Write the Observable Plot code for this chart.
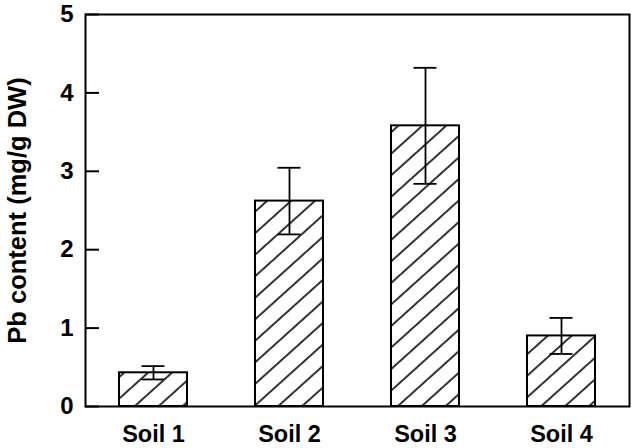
<!DOCTYPE html>
<html>
<head>
<meta charset="utf-8">
<script src="https://cdn.jsdelivr.net/npm/d3@7"></script>
<script src="https://cdn.jsdelivr.net/npm/@observablehq/plot@0.6"></script>
<style>
  html, body { margin: 0; padding: 0; background: #fff; }
</style>
</head>
<body>
<div id="chart"></div>
<script>
const soils = ["Soil 1", "Soil 2", "Soil 3", "Soil 4"];
const pbContent = [0.43, 2.62, 3.58, 0.90];
const pbError = [0.085, 0.425, 0.74, 0.23];
const yTicks = [0, 1, 2, 3, 4, 5];
const yLabel = ["Pb content (mg/g DW)"];

const data = soils.map((s, i) => ({
  soil: s,
  value: pbContent[i],
  lo: pbContent[i] - pbError[i],
  hi: pbContent[i] + pbError[i]
}));

const font = "'Liberation Sans', Arial, Helvetica, sans-serif";

const chart = Plot.plot({
  width: 636,
  height: 448,
  marginTop: 14,
  marginBottom: 42,
  marginLeft: 85,
  marginRight: 7,
  style: { fontFamily: font, fontWeight: "bold", background: "#fff", color: "#000" },
  x: { domain: soils, paddingInner: 0.5, paddingOuter: 0.25, label: null },
  y: { domain: [0, 5], label: null },
  marks: [
    Plot.barY(data, { x: "soil", y: "value", fill: "url(#hatch)", stroke: "#000", strokeWidth: 2 }),
    Plot.ruleX(data, { x: "soil", y1: "lo", y2: "hi", stroke: "#000", strokeWidth: 1.8 }),
    Plot.tickY(data, { x: "soil", y: "hi", inset: 22.5, stroke: "#000", strokeWidth: 1.8 }),
    Plot.tickY(data, { x: "soil", y: "lo", inset: 22.5, stroke: "#000", strokeWidth: 1.8 }),
    Plot.ruleY(yTicks, { y: d => d, insetRight: 530, stroke: "#000", strokeWidth: 2 }),
    Plot.axisY(yTicks, { tickSize: 0, tickPadding: 12, tickFormat: d => String(d), fontSize: 24, fontWeight: "bold", label: null }),
    Plot.axisX({ tickSize: 0, tickPadding: 19, fontSize: 23.5, fontWeight: "bold", label: null }),
    Plot.text(yLabel, { text: d => d, frameAnchor: "left", textAnchor: "middle", rotate: -90, dx: -60, lineAnchor: "bottom", fontSize: 25.5, fontWeight: "bold", fill: "#000" }),
    Plot.frame({ stroke: "#000", strokeWidth: 2 })
  ]
});

const svg = d3.select(chart);
const defs = svg.insert("defs", ":first-child");
const sp = 16;
const pat = defs.append("pattern")
  .attr("id", "hatch")
  .attr("patternUnits", "userSpaceOnUse")
  .attr("width", sp)
  .attr("height", sp)
  .attr("patternTransform", "rotate(-42)");
pat.append("rect").attr("width", sp).attr("height", sp).attr("fill", "#fff");
pat.append("line")
  .attr("x1", 0).attr("x2", sp)
  .attr("y1", sp / 2).attr("y2", sp / 2)
  .attr("stroke", "#000").attr("stroke-width", 1.6);

document.getElementById("chart").appendChild(chart);
</script>
</body>
</html>
